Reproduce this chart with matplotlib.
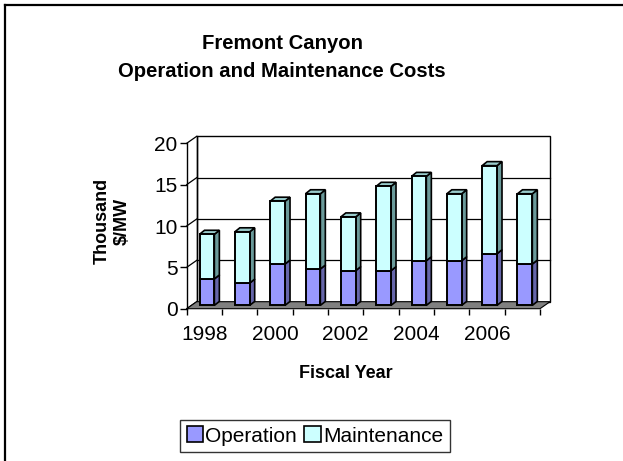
import matplotlib
matplotlib.use("Agg")
import matplotlib.pyplot as plt
from matplotlib.patches import Polygon, Rectangle, Patch
from matplotlib.lines import Line2D

plt.rcParams['font.family'] = ['Liberation Sans', 'DejaVu Sans']

# ---- data ----
years = ["1998", "1999", "2000", "2001", "2002", "2003", "2004", "2005", "2006", "2007"]
operation = [3.2, 2.7, 5.0, 4.4, 4.2, 4.2, 5.4, 5.4, 6.25, 5.0]
maintenance = [5.4, 6.2, 7.6, 9.1, 6.5, 10.2, 10.2, 8.1, 10.65, 8.5]
yticks = [0, 5, 10, 15, 20]
title = "Fremont Canyon\nOperation and Maintenance Costs"
ylabel = "Thousand\n$/MW"
xlabel = "Fiscal Year"
series_names = ["Operation", "Maintenance"]

op_front, op_side = "#9999FF", "#6666AA"
mt_front, mt_side, mt_top = "#CCFFFF", "#6A9A9A", "#99CCCC"

W, H = 623, 461
fig = plt.figure(figsize=(W / 100, H / 100), dpi=100)

# front axes rectangle in pixels
x0p, x1p = 186.7, 540.0
y0p, y1p = 308.7, 143.3
ax = fig.add_axes([x0p / W, 1 - y0p / H, (x1p - x0p) / W, (y0p - y1p) / H])
n = len(years)
ax.set_xlim(0, n)
ax.set_ylim(0, 20)
ax.patch.set_visible(False)
for s in ["top", "right", "bottom"]:
    ax.spines[s].set_visible(False)
ax.spines["left"].set_linewidth(1.0)
ax.spines["left"].set_zorder(10)

pxx = (x1p - x0p) / n      # px per x unit
pxy = (y0p - y1p) / 20.0   # px per y unit

def off(dxp, dyp):
    return dxp / pxx, dyp / pxy

# back wall offset
wdx, wdy = off(10, 7)
ax.add_patch(Rectangle((wdx, wdy), n, 20, fc="white", ec="black", lw=1.0,
                       clip_on=False, zorder=1))
for v in yticks:
    if 0 < v < 20:
        ax.plot([wdx, n + wdx], [v + wdy, v + wdy], color="black", lw=0.9,
                clip_on=False, zorder=2)
    ax.plot([0, wdx], [v, v + wdy], color="black", lw=0.9, clip_on=False, zorder=2)
ax.plot([wdx, wdx], [wdy, 20 + wdy], color="black", lw=1.0, clip_on=False, zorder=2)

# floor
ax.add_patch(Polygon([(0, 0), (n, 0), (n + wdx, wdy), (wdx, wdy)], closed=True,
                     fc="#808080", ec="black", lw=0.8, clip_on=False, zorder=3))

# bars
sdx, sdy = off(4.7, 3.3)   # bar front offset from front plane
bdx, bdy = off(5.0, 4.0)   # bar depth
bw = 0.42
xs = [i + 0.23 + sdx for i in range(n)]

def draw_segment(bottoms, heights, front, side, top=None):
    ax.bar(xs, heights, bottom=[b + sdy for b in bottoms], width=bw, align="edge",
           color=front, edgecolor="black", linewidth=1.4, zorder=5, clip_on=False)
    for x, b, h in zip(xs, bottoms, heights):
        yb, yt = b + sdy, b + h + sdy
        xr = x + bw
        ax.add_patch(Polygon([(xr, yb), (xr, yt), (xr + bdx, yt + bdy), (xr + bdx, yb + bdy)],
                             closed=True, fc=side, ec="black", lw=1.2, zorder=4.5,
                             clip_on=False))
        if top is not None:
            ax.add_patch(Polygon([(x, yt), (xr, yt), (xr + bdx, yt + bdy), (x + bdx, yt + bdy)],
                                 closed=True, fc=top, ec="black", lw=1.2, zorder=4.5,
                                 clip_on=False))

draw_segment([0] * n, operation, op_front, op_side)
draw_segment(operation, maintenance, mt_front, mt_side, mt_top)

# axes ticks
ax.set_yticks(yticks)
ax.set_yticklabels([str(v) for v in yticks], fontsize=15)
ax.tick_params(axis="y", direction="out", length=5, width=1.0, pad=1.5)
ax.set_xticks(range(0, n + 1))
ax.set_xticklabels([])
ax.tick_params(axis="x", which="major", direction="out", length=4, width=1.0)
ax.set_xticks([i + 0.5 for i in range(n)], minor=True)
ax.set_xticklabels([y if i % 2 == 0 else "" for i, y in enumerate(years)], minor=True,
                   fontsize=15)
ax.tick_params(axis="x", which="minor", length=0, pad=12)

# texts
fig.text(282 / W, 1 - 57.5 / H, title, ha="center", va="center", fontsize=14.6,
         fontweight="bold", linespacing=1.6)
fig.text(112 / W, 1 - 221 / H, ylabel, ha="center", va="center", rotation=90,
         fontsize=13, fontweight="bold", linespacing=1.25)
fig.text(346 / W, 1 - 373 / H, xlabel, ha="center", va="center", fontsize=13,
         fontweight="bold")

handles = [Patch(fc=op_front, ec="black", lw=1.2), Patch(fc=mt_front, ec="black", lw=1.2)]
leg = fig.legend(handles, series_names, loc="center", bbox_to_anchor=(315 / W, 1 - 436 / H),
                 ncol=2, fontsize=15, frameon=True, fancybox=False, edgecolor="black",
                 handlelength=0.8, handleheight=0.8, handletextpad=0.1,
                 columnspacing=0.35, borderpad=0.3, borderaxespad=0)
leg.get_frame().set_linewidth(1.0)

# outer border (left and top)
fig.add_artist(Line2D([4.5 / W, 4.5 / W], [0, 1 - 5 / H], color="black", lw=1.6))
fig.add_artist(Line2D([4.5 / W, 1], [1 - 5 / H, 1 - 5 / H], color="black", lw=1.6))

fig.savefig("out.png", dpi=100)
